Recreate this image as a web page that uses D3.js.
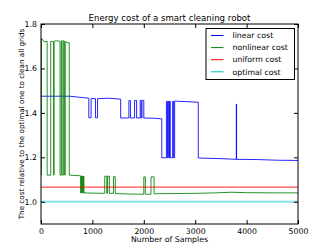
<!DOCTYPE html>
<html>
<head>
<meta charset="utf-8">
<script src="https://cdn.jsdelivr.net/npm/d3@7"></script>
<style>
  body { margin: 0; background: #fff; }
  text { font-family: "DejaVu Sans", sans-serif; fill: #000; }
</style>
</head>
<body>
<svg id="chart" width="332" height="249"></svg>
<script>
// series data: [sample, cost] points
var linearCost = [
    [0, 1.475], [560, 1.475], [930, 1.466], [930, 1.378], [975, 1.378], [975, 1.465],
    [1060, 1.464], [1060, 1.378], [1100, 1.378], [1100, 1.464], [1300, 1.466], [1550, 1.462],
    [1550, 1.377], [1710, 1.377], [1710, 1.455], [1740, 1.455], [1740, 1.377], [1820, 1.377],
    [1820, 1.456], [1860, 1.456], [1860, 1.377], [1930, 1.377], [1930, 1.456], [1950, 1.456],
    [1950, 1.377], [1965, 1.377], [1965, 1.456], [2000, 1.456], [2000, 1.377], [2200, 1.376],
    [2350, 1.373], [2350, 1.198], [2440, 1.198], [2440, 1.452], [2460, 1.452], [2460, 1.198],
    [2475, 1.198], [2475, 1.452], [2490, 1.452], [2490, 1.198], [2500, 1.198], [2500, 1.452],
    [2515, 1.452], [2515, 1.198], [2560, 1.198], [2560, 1.452], [2580, 1.452], [2580, 1.198],
    [2600, 1.198], [2600, 1.453], [2700, 1.452], [3060, 1.448], [3060, 1.197], [3500, 1.194],
    [3800, 1.191], [3800, 1.44], [3805, 1.44], [3805, 1.191], [4200, 1.19], [4600, 1.187],
    [5000, 1.186]
];
var nonlinearCost = [
    [0, 1.12], [8, 1.12], [8, 1.735], [40, 1.728], [60, 1.72], [120, 1.722], [120, 1.12],
    [190, 1.12], [190, 1.722], [245, 1.72], [245, 1.12], [255, 1.12], [255, 1.722],
    [300, 1.725], [370, 1.722], [370, 1.12], [395, 1.12], [395, 1.725], [410, 1.725],
    [410, 1.12], [435, 1.12], [435, 1.725], [460, 1.722], [460, 1.12], [470, 1.12],
    [470, 1.72], [550, 1.715], [550, 1.12], [700, 1.118], [770, 1.117], [770, 1.04],
    [785, 1.04], [785, 1.115], [795, 1.115], [795, 1.04], [805, 1.04], [805, 1.115],
    [815, 1.115], [815, 1.04], [825, 1.04], [825, 1.115], [835, 1.115], [835, 1.04],
    [1000, 1.039], [1240, 1.038], [1240, 1.115], [1280, 1.115], [1280, 1.038], [1295, 1.038],
    [1295, 1.115], [1330, 1.115], [1330, 1.038], [1410, 1.038], [1410, 1.113], [1445, 1.113],
    [1445, 1.037], [1700, 1.035], [2000, 1.034], [2000, 1.112], [2030, 1.112], [2030, 1.034],
    [2140, 1.034], [2140, 1.112], [2200, 1.112], [2200, 1.036], [2600, 1.037], [3000, 1.038],
    [3400, 1.04], [3700, 1.043], [4000, 1.041], [4500, 1.04], [5000, 1.04]
];
var uniformCost = [[0, 1.066], [5000, 1.066]];
var optimalCost = [[0, 1.0], [5000, 1.0]];

var seriesNames = ["linear cost", "nonlinear cost", "uniform cost", "optimal cost"];
var seriesColors = ["#0000ff", "#008000", "#ff0000", "#00bfbf"];
var xTicks = [0, 1000, 2000, 3000, 4000, 5000];
var yTicks = [1.0, 1.2, 1.4, 1.6, 1.8];

var svg = d3.select("#chart");
var plotLeft = 41, plotRight = 298, plotTop = 24, plotBottom = 224;

var x = d3.scaleLinear().domain([0, 5000]).range([plotLeft, plotRight]);
var y = d3.scaleLinear().domain([0.9, 1.8]).range([plotBottom, plotTop]);

// clip lines to the plot area
svg.append("clipPath").attr("id", "clip")
    .append("rect").attr("x", plotLeft).attr("y", plotTop)
    .attr("width", plotRight - plotLeft).attr("height", plotBottom - plotTop);

var line = d3.line()
    .x(function (d) { return x(d[0]); })
    .y(function (d) { return y(d[1]); });

// the flat reference lines look wider and paler in the picture
var lineWidths = [1, 1, 1.3, 2];
var lineOpacity = [0.85, 0.85, 0.7, 0.45];

var allSeries = [linearCost, nonlinearCost, uniformCost, optimalCost];
svg.append("g").attr("clip-path", "url(#clip)")
    .selectAll("path")
    .data(allSeries)
    .enter()
    .append("path")
    .attr("d", line)
    .attr("fill", "none")
    .attr("stroke", function (d, i) { return seriesColors[i]; })
    .attr("stroke-width", function (d, i) { return lineWidths[i]; })
    .attr("stroke-opacity", function (d, i) { return lineOpacity[i]; });

// axes, ticks pointing inwards on all four sides
function styleAxis(g) {
    g.select(".domain").remove();
    g.selectAll("line").attr("stroke", "#000");
    g.selectAll("text").style("font-size", "7.8px").attr("fill", "#000");
}
svg.append("g")
    .attr("transform", "translate(0," + plotBottom + ")")
    .call(d3.axisBottom(x).tickValues(xTicks).tickSizeInner(-4).tickSizeOuter(0).tickPadding(4)
        .tickFormat(d3.format("d")))
    .call(styleAxis);
svg.append("g")
    .attr("transform", "translate(0," + plotTop + ")")
    .call(d3.axisTop(x).tickValues(xTicks).tickSizeInner(-4).tickSizeOuter(0).tickFormat(""))
    .call(styleAxis);
svg.append("g")
    .attr("transform", "translate(" + plotLeft + ",0)")
    .call(d3.axisLeft(y).tickValues(yTicks).tickSizeInner(-4).tickSizeOuter(0).tickPadding(4)
        .tickFormat(d3.format(".1f")))
    .call(styleAxis);
svg.append("g")
    .attr("transform", "translate(" + plotRight + ",0)")
    .call(d3.axisRight(y).tickValues(yTicks).tickSizeInner(-4).tickSizeOuter(0).tickFormat(""))
    .call(styleAxis);

svg.append("rect")
    .attr("x", plotLeft).attr("y", plotTop)
    .attr("width", plotRight - plotLeft).attr("height", plotBottom - plotTop)
    .attr("fill", "none").attr("stroke", "#000").attr("stroke-width", 1);

// titles
svg.append("text")
    .attr("x", (plotLeft + plotRight) / 2).attr("y", 21)
    .attr("text-anchor", "middle")
    .style("font-size", "8.6px")
    .text("Energy cost of a smart cleaning robot");

svg.append("text")
    .attr("x", (plotLeft + plotRight) / 2).attr("y", 241.5)
    .attr("text-anchor", "middle")
    .style("font-size", "7.8px")
    .text("Number of Samples");

svg.append("text")
    .attr("transform", "translate(24," + ((plotTop + plotBottom) / 2) + ") rotate(-90)")
    .attr("text-anchor", "middle")
    .style("font-size", "7.2px")
    .text("The cost relative to the optimal one to clean all grids");

// legend
var legend = svg.append("g");
legend.append("rect")
    .attr("x", 206).attr("y", 28.5)
    .attr("width", 88.5).attr("height", 51)
    .attr("fill", "#fff").attr("stroke", "#000").attr("stroke-width", 1);
var rows = legend.selectAll("g.row")
    .data(seriesNames)
    .enter()
    .append("g")
    .attr("class", "row")
    .attr("transform", function (d, i) { return "translate(0," + (35.5 + i * 12.1) + ")"; });
rows.append("line")
    .attr("x1", 211).attr("x2", 223.5)
    .attr("stroke", function (d, i) { return seriesColors[i]; })
    .attr("stroke-width", 1);
rows.append("text")
    .attr("x", 232.5).attr("dy", "0.35em")
    .style("font-size", "7.8px")
    .text(function (d) { return d; });
</script>
</body>
</html>
